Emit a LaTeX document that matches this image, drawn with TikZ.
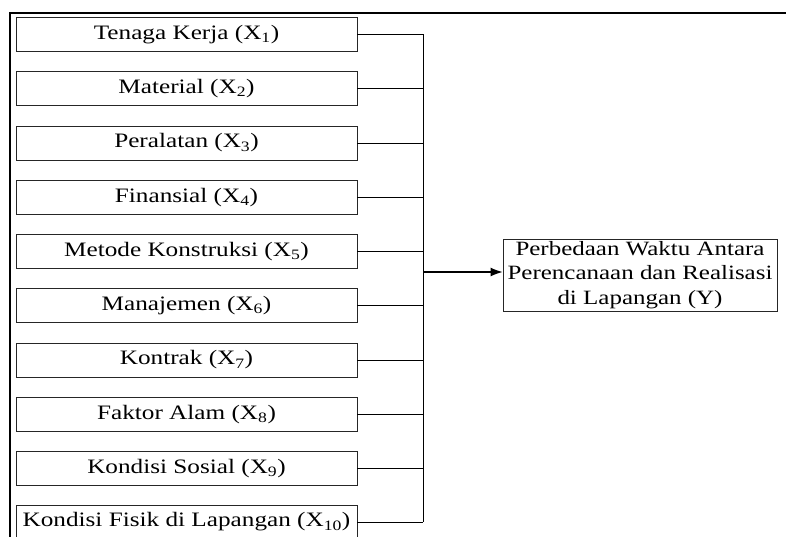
\documentclass[tikz,border=0pt]{standalone}
\usepackage{fontspec}
\setmainfont[FakeStretch=1.23]{Liberation Serif}
\usetikzlibrary{arrows.meta}
\begin{document}
\begin{tikzpicture}[x=1pt,y=-1pt,
  xbox/.style={draw=black!85, line width=0.9pt, minimum width=341pt, minimum height=34pt, inner sep=0pt,
    font=\fontsize{20.5}{24}\selectfont},
  ybox/.style={draw=black!85, line width=0.9pt, minimum width=274pt, minimum height=72pt, inner sep=0pt,
    align=center, font=\fontsize{20.3}{24.5}\selectfont},
  conn/.style={draw=black, line width=0.9pt},
  frame/.style={draw=black, line width=1.8pt},
  arr/.style={draw=black, line width=1.2pt, -{Latex[length=12pt,width=9pt]}}]
\useasboundingbox (0,0) rectangle (786,537);
% outer frame (cropped)
\coordinate (ftl) at (10,13);
\coordinate (ftr) at (790,13);
\coordinate (fbl) at (10,540);
\draw[frame] (ftr) -- (ftl) -- (fbl);
% factor boxes
\node[xbox] (x1)  at (186.5,34.5)   {Tenaga Kerja (X\textsubscript{1})};
\node[xbox] (x2)  at (186.5,88.75)  {Material (X\textsubscript{2})};
\node[xbox] (x3)  at (186.5,143)    {Peralatan (X\textsubscript{3})};
\node[xbox] (x4)  at (186.5,197.25) {Finansial (X\textsubscript{4})};
\node[xbox] (x5)  at (186.5,251.5)  {Metode Konstruksi (X\textsubscript{5})};
\node[xbox] (x6)  at (186.5,305.75) {Manajemen (X\textsubscript{6})};
\node[xbox] (x7)  at (186.5,360)    {Kontrak (X\textsubscript{7})};
\node[xbox] (x8)  at (186.5,414.25) {Faktor Alam (X\textsubscript{8})};
\node[xbox] (x9)  at (186.5,468.5)  {Kondisi Sosial (X\textsubscript{9})};
\node[xbox] (x10) at (186.5,522)    {Kondisi Fisik di Lapangan (X\textsubscript{10})};
% result box
\node[ybox] (y) at (640,275) {Perbedaan Waktu Antara\\Perencanaan dan Realisasi\\di Lapangan (Y)};
% bus
\coordinate (bustop) at (423,34.5);
\coordinate (busbot) at (423,522);
\coordinate (busmid) at (423,272);
\foreach \i in {1,...,10} {
  \draw[conn] (x\i.east) -- (x\i.east -| bustop);
}
\draw[conn] (bustop) -- (busbot);
\draw[arr] (busmid) -- (y.west |- busmid);
\end{tikzpicture}
\end{document}
